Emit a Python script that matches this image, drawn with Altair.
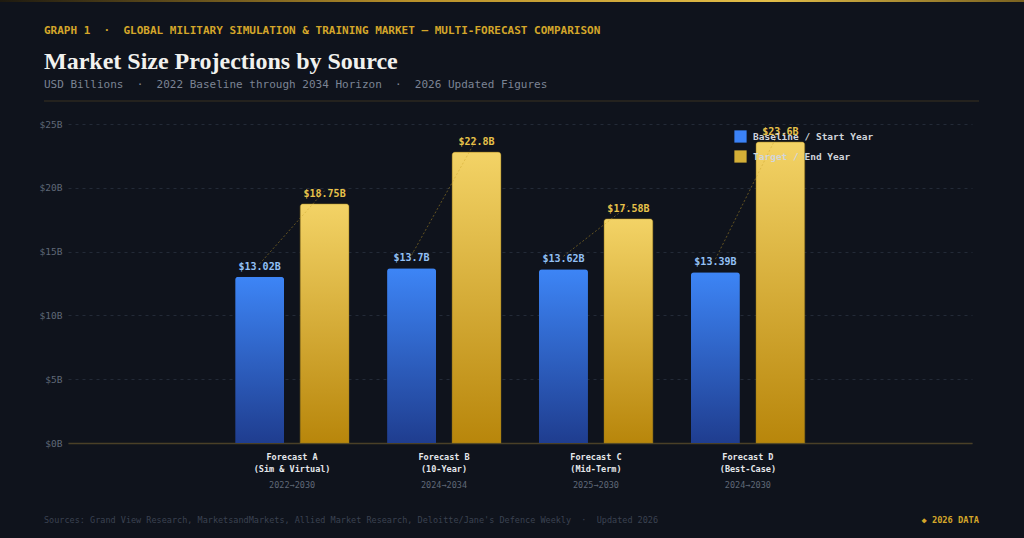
import altair as alt
import pandas as pd

# ---------------- data ----------------
categories = ["Forecast A", "Forecast B", "Forecast C", "Forecast D"]
subtitles = ["(Sim & Virtual)", "(10-Year)", "(Mid-Term)", "(Best-Case)"]
periods = ["2022→2030", "2024→2034", "2025→2030", "2024→2030"]
baseline = [13.02, 13.7, 13.62, 13.39]
target = [18.75, 22.8, 17.58, 23.6]
series_names = ["Baseline / Start Year", "Target / End Year"]
y_ticks = [0, 5, 10, 15, 20, 25]

SEP = "\u00a0\u00a0·\u00a0\u00a0"
kicker = "GRAPH 1" + SEP + "GLOBAL MILITARY SIMULATION & TRAINING MARKET — MULTI-FORECAST COMPARISON"
title_text = "Market Size Projections by Source"
subtitle_text = "USD Billions" + SEP + "2022 Baseline through 2034 Horizon" + SEP + "2026 Updated Figures"
footer_left = ("Sources: Grand View Research, MarketsandMarkets, Allied Market Research, "
               "Deloitte/Jane's Defence Weekly" + SEP + "Updated 2026")
footer_right = "◆ 2026 DATA"

rows = []
for i, c in enumerate(categories):
    rows.append({"cat": c, "series": series_names[0], "value": baseline[i], "order": 0})
    rows.append({"cat": c, "series": series_names[1], "value": target[i], "order": 1})
df = pd.DataFrame(rows)
cat_df = pd.DataFrame({"cat": categories, "period": periods})

MONO = "DejaVu Sans Mono"
BG = "#0f131c"

# empty slots either side of the groups (the reference leaves them blank)
x_domain = ["_left"] + categories + ["_right"]

# label expression for two-line x labels
expr = "''"
for c, s in reversed(list(zip(categories, subtitles))):
    expr = f"datum.value == '{c}' ? ['{c}', '{s}'] : ({expr})"

x_enc = alt.X(
    "cat:N",
    sort=x_domain,
    scale=alt.Scale(domain=x_domain, paddingInner=0.25, paddingOuter=0.1),
    axis=alt.Axis(
        title=None, labelExpr=expr, labelFont=MONO, labelFontSize=8.5,
        labelFontWeight="bold", labelColor="#e5e7eb", labelLineHeight=12,
        labelPadding=9, ticks=False, domainColor="#4a4027", domainWidth=1.5,
        labelAngle=0, grid=False,
    ),
)
xoff_enc = alt.XOffset(
    "series:N", scale=alt.Scale(domain=series_names, paddingInner=0.246, paddingOuter=0)
)
y_enc = alt.Y(
    "value:Q",
    scale=alt.Scale(domain=[0, 25], nice=False),
    axis=alt.Axis(
        title=None, values=y_ticks, labelExpr="'$' + datum.value + 'B'",
        labelFont=MONO, labelFontSize=9.5, labelColor="#5f6877", grid=True,
        gridColor="#232a37", gridDash=[3, 4], ticks=False, domain=False,
        labelPadding=6,
    ),
)

base = alt.Chart(df)

blue_grad = alt.Gradient(
    gradient="linear",
    stops=[alt.GradientStop(color="#3d85f6", offset=0),
           alt.GradientStop(color="#1f3d8f", offset=1)],
    x1=0, x2=0, y1=0, y2=1,
)
gold_grad = alt.Gradient(
    gradient="linear",
    stops=[alt.GradientStop(color="#f3d366", offset=0),
           alt.GradientStop(color="#b8860b", offset=1)],
    x1=0, x2=0, y1=0, y2=1,
)

one = pd.DataFrame({"k": [0]})

topbar = alt.Chart(one).mark_rect(
    fill=alt.Gradient(
        gradient="linear",
        stops=[alt.GradientStop(color="#1e1a10", offset=0),
               alt.GradientStop(color="#b8902a", offset=0.4),
               alt.GradientStop(color="#e2bd48", offset=0.75),
               alt.GradientStop(color="#7a6220", offset=1)],
        x1=0, y1=0, x2=1, y2=0,
    )
).encode(x=alt.value(-68), x2=alt.value(956), y=alt.value(-124), y2=alt.value(-122))

divider = alt.Chart(one).mark_rule(color="#3a3321", strokeWidth=1).encode(
    x=alt.value(-24), x2=alt.value(911), y=alt.value(-23)
)

kicker_l = alt.Chart(pd.DataFrame({"t": [kicker]})).mark_text(
    font=MONO, fontSize=11, fontWeight="bold", color="#d4a62a", align="left",
    baseline="middle",
).encode(x=alt.value(-24), y=alt.value(-93), text="t:N")

title_l = alt.Chart(pd.DataFrame({"t": [title_text]})).mark_text(
    font="Liberation Serif", fontSize=24, fontWeight="bold", color="#f1f1ee",
    align="left", baseline="alphabetic",
).encode(x=alt.value(-24), y=alt.value(-55), text="t:N")

subtitle_l = alt.Chart(pd.DataFrame({"t": [subtitle_text]})).mark_text(
    font=MONO, fontSize=11, color="#7c8494", align="left", baseline="middle",
).encode(x=alt.value(-24), y=alt.value(-39), text="t:N")

footer_l = alt.Chart(pd.DataFrame({"t": [footer_left]})).mark_text(
    font=MONO, fontSize=8.5, color="#3b4251", align="left", baseline="middle"
).encode(x=alt.value(-24), y=alt.value(396), text="t:N")

footer_r = alt.Chart(pd.DataFrame({"t": [footer_right]})).mark_text(
    font=MONO, fontSize=8.7, fontWeight="bold", color="#d4a62a", align="right", baseline="middle"
).encode(x=alt.value(911), y=alt.value(396), text="t:N")

legend_layer = base.mark_bar(opacity=0).encode(
    x=x_enc, xOffset=xoff_enc, y=y_enc,
    color=alt.Color(
        "series:N",
        scale=alt.Scale(domain=series_names, range=["#3b82f6", "#d4af37"]),
        legend=alt.Legend(
            orient="none", legendX=666, legendY=6, title=None, symbolType="square",
            symbolSize=150, symbolOpacity=1, symbolStrokeWidth=0, labelFont=MONO,
            labelFontSize=9.5, labelFontWeight="bold", labelColor="#d1d5db",
            rowPadding=7, labelOffset=6,
        ),
    ),
)

bars_blue = base.transform_filter(alt.datum.order == 0).mark_bar(
    fill=blue_grad, cornerRadiusTopLeft=3, cornerRadiusTopRight=3
).encode(x=x_enc, xOffset=xoff_enc, y=y_enc)

bars_gold = base.transform_filter(alt.datum.order == 1).mark_bar(
    fill=gold_grad, cornerRadiusTopLeft=3, cornerRadiusTopRight=3,
    stroke="#9a7a1c", strokeWidth=0.6, strokeOpacity=0.6,
).encode(x=x_enc, xOffset=xoff_enc, y=y_enc)

connector = base.mark_line(
    strokeDash=[2, 2], strokeWidth=1, color="#c9a227", opacity=0.45, yOffset=-13
).encode(x=x_enc, xOffset=xoff_enc, y=y_enc, detail="cat:N", order="order:Q")

labels = base.transform_calculate(lbl="'$' + datum.value + 'B'").mark_text(
    font=MONO, fontSize=10, fontWeight="bold", baseline="bottom", dy=-5
).encode(
    x=x_enc, xOffset=xoff_enc, y=y_enc, text="lbl:N",
    color=alt.condition(alt.datum.order == 0, alt.value("#93c0f5"), alt.value("#e8c24a")),
)

period_text = alt.Chart(cat_df).mark_text(
    font=MONO, fontSize=8.5, color="#5f6877", baseline="middle"
).encode(x=x_enc, y=alt.value(361), text="period:N")

chart = alt.layer(
    topbar, divider, kicker_l, title_l, subtitle_l, footer_l, footer_r,
    legend_layer, bars_blue, bars_gold, connector, labels, period_text,
).properties(
    width=904,
    height=319,
    autosize=alt.AutoSizeParams(type="none"),
    padding={"left": 68, "top": 124, "right": 52, "bottom": 95},
    background=BG,
).configure_view(stroke=None)

chart.save("out.html", embed_options={"renderer": "svg", "actions": False})
